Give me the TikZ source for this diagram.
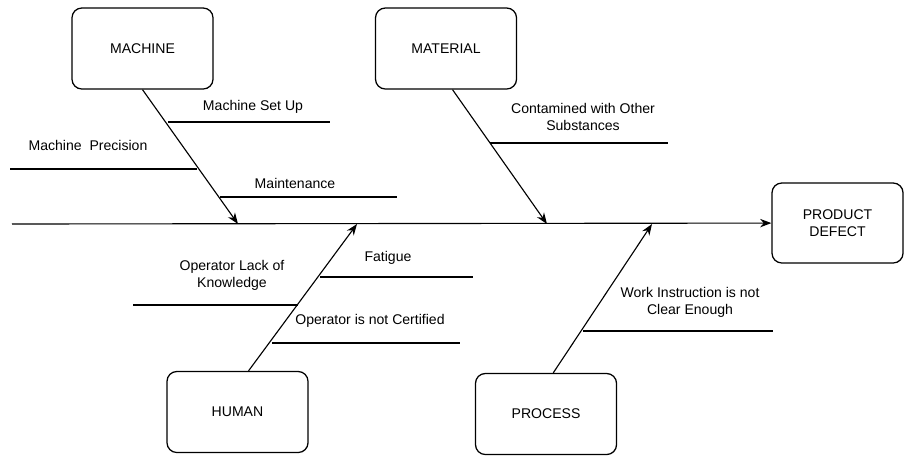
\documentclass[tikz,border=0pt]{standalone}
\usepackage{fontspec}
\setmainfont{Liberation Sans}
\usetikzlibrary{arrows.meta, positioning, calc}

\begin{document}
\begin{tikzpicture}[x=0.025cm, y=-0.025cm, boxstyle/.style = {rectangle, draw, rounded corners=7pt, line width=0.9pt, align=center, minimum width=3.525cm, minimum height=2.025cm}, bonestyle/.style = {-{Stealth[length=8pt, width=6pt]}, line width=0.8pt}, causestyle/.style = {line width=0.8pt}, labelstyle/.style = {align=center, inner sep=1pt}]
  \tikzstyle{every node}=[font=\fontsize{10}{12}\selectfont]
  \useasboundingbox (0,0) rectangle (905,455);

  % Categories
  \node[boxstyle] (machine) at (142.5,48.5) {MACHINE};
  \node[boxstyle] (material) at (446,48.5) {MATERIAL};
  \node[boxstyle] (human) at (237.5,412) {HUMAN};
  \node[boxstyle] (process) at (546,414) {PROCESS};

  % Effect
  \node[boxstyle, minimum width=3.275cm, minimum height=2cm] (defect) at (837.5,223) {PRODUCT\\DEFECT};

  % Spine
  \coordinate (spine) at (12,224);
  \draw[bonestyle] (spine) -- (defect);

  % Machine
  \coordinate (machinetip) at (238,224);
  \draw[bonestyle] (machine.south) -- (machinetip);
  \draw[causestyle] (168,122) -- (330,122);
  \node[labelstyle] (setup) at (253,107) {Machine Set Up};
  \draw[causestyle] (10,169) -- (197,169);
  \node[labelstyle] (precision) at (88,145) {Machine\ \ Precision};
  \draw[causestyle] (220,197) -- (397,197);
  \node[labelstyle] (maintenance) at (295,183) {Maintenance};

  % Material
  \coordinate (materialtip) at (547,224);
  \draw[bonestyle] (material.-81) -- (materialtip);
  \draw[causestyle] (490,143) -- (668,143);
  \node[labelstyle] (contaminated) at (583,117) {Contamined with Other\\Substances};

  % Human
  \coordinate (humantip) at (357,224);
  \draw[bonestyle] (human.75) -- (humantip);
  \draw[causestyle] (320,277) -- (473,277);
  \node[labelstyle] (fatigue) at (388,258) {Fatigue};
  \draw[causestyle] (133,305) -- (298,305);
  \node[labelstyle] (knowledge) at (232,275) {Operator Lack of\\Knowledge};
  \draw[causestyle] (272,343) -- (460,343);
  \node[labelstyle] (certified) at (370,321) {Operator is not Certified};

  % Process
  \coordinate (processtip) at (652,224);
  \draw[bonestyle] (process.80) -- (processtip);
  \draw[causestyle] (583,331) -- (773,331);
  \node[labelstyle] (instruction) at (690,302) {Work Instruction is not\\Clear Enough};

\end{tikzpicture}
\end{document}
